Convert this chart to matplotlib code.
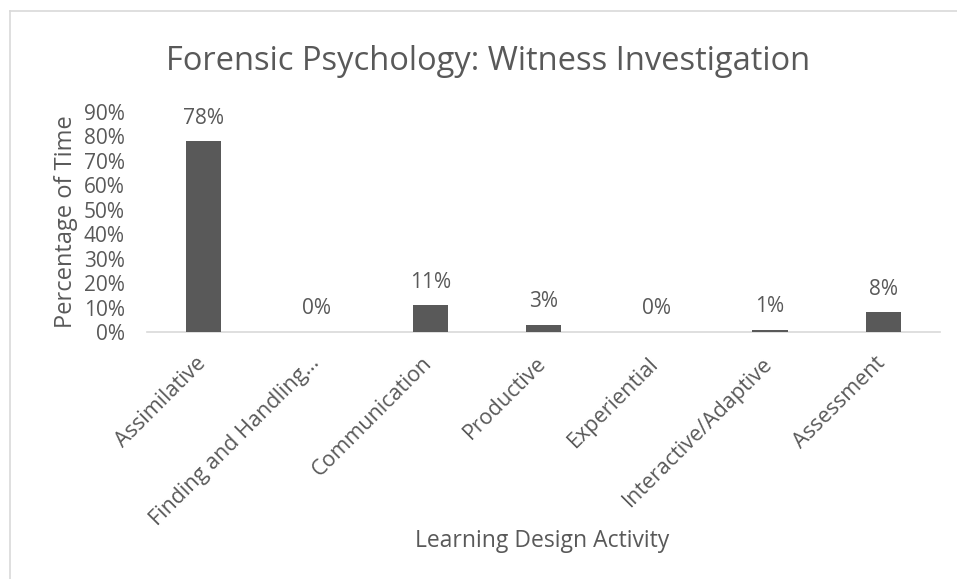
import matplotlib
matplotlib.use('Agg')
import matplotlib.pyplot as plt
import matplotlib.transforms as mtransforms
from matplotlib.lines import Line2D

categories = ['Assimilative', 'Finding and Handling…', 'Communication', 'Productive',
              'Experiential', 'Interactive/Adaptive', 'Assessment']
values = [0.78, 0.0, 0.11, 0.03, 0.0, 0.01, 0.08]
yticks = [0.0, 0.1, 0.2, 0.3, 0.4, 0.5, 0.6, 0.7, 0.8, 0.9]

plt.rcParams['font.family'] = ['Open Sans', 'DejaVu Sans']
txt = '#595959'

fig = plt.figure(figsize=(9.57, 5.79), dpi=100)
ax = fig.add_axes([0.1536, 0.4266, 0.8286, 0.38])

x = list(range(len(categories)))
bars = ax.bar(x, values, width=0.31, color='#595959', zorder=3)

for xi, v in zip(x, values):
    ax.annotate(f'{v:.0%}', (xi, v), xytext=(0, 9), textcoords='offset points',
                ha='center', va='bottom', fontsize=15, color=txt)

ax.set_xlim(-0.5, len(categories) - 0.5)
ax.set_ylim(0, 0.9)
ax.set_yticks(yticks)
ax.set_yticklabels([f'{t:.0%}' for t in yticks], fontsize=15, color=txt)
ax.set_xticks(x)
ax.set_xticklabels(categories, rotation=45, ha='right', rotation_mode='anchor',
                   fontsize=15.5, color=txt)
ax.tick_params(axis='both', length=0)
ax.tick_params(axis='x', pad=15)
ax.tick_params(axis='y', pad=16)

# nudge the slanted labels left so they end under the bar centres
shift = mtransforms.ScaledTranslation(-6 / 72, 0, fig.dpi_scale_trans)
for lab in ax.get_xticklabels():
    lab.set_transform(lab.get_transform() + shift)

for s in ['top', 'right', 'left']:
    ax.spines[s].set_visible(False)
ax.spines['bottom'].set_color('#d9d9d9')
ax.spines['bottom'].set_linewidth(1.2)

ax.set_ylabel('Percentage of Time', fontsize=17, color=txt, labelpad=4)
fig.text(0.567, 1 - 541 / 579, 'Learning Design Activity', ha='center', va='center',
         fontsize=16.5, color=txt)
fig.text(0.51, 1 - 61 / 579, 'Forensic Psychology: Witness Investigation', ha='center',
         va='center', fontsize=23.5, color=txt)

# chart frame (top and left edges visible)
fig.add_artist(Line2D([9.5 / 957, 1], [1 - 11 / 579, 1 - 11 / 579], transform=fig.transFigure,
                      color='#d9d9d9', lw=1.2))
fig.add_artist(Line2D([9.5 / 957, 9.5 / 957], [0, 1 - 11 / 579], transform=fig.transFigure,
                      color='#d9d9d9', lw=1.2))

fig.savefig('out.png', dpi=100)
